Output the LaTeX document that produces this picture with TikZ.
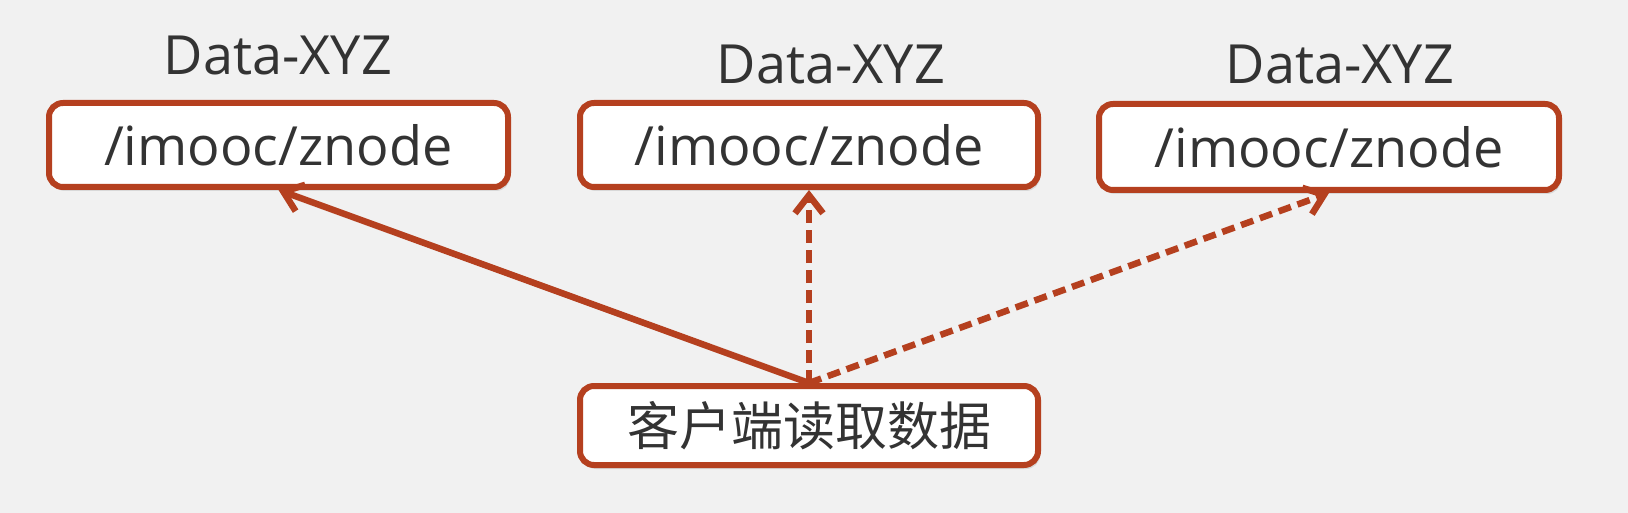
\documentclass[tikz,border=0pt]{standalone}
\usepackage{fontspec}
\setmainfont{Open Sans}
\newfontfamily\cjk{Noto Sans CJK SC}
\usetikzlibrary{arrows.meta,shadows}
\definecolor{bg}{HTML}{F1F1F1}
\definecolor{rust}{HTML}{B5401F}
\definecolor{txt}{HTML}{333333}
\tikzset{
  box/.style={draw=rust, line width=6pt, fill=white, rounded corners=14pt,
    inner sep=0pt, text=txt, font=\fontsize{54}{60}\selectfont,
    drop shadow={opacity=0.22, shadow xshift=2pt, shadow yshift=-4pt}},
  lbl/.style={text=txt, font=\fontsize{54}{60}\selectfont, inner sep=0pt, anchor=base},
  conn/.style={draw=rust, line width=6.5pt,
    -{Straight Barb[length=18pt,width=28pt]}},
  dashconn/.style={conn, dash pattern=on 13pt off 7pt}
}
\begin{document}
\begin{tikzpicture}[x=1pt,y=-1pt]
\fill[bg] (0,0) rectangle (1628,513);
\useasboundingbox (0,0) rectangle (1628,513);
\node[box, minimum width=459pt, minimum height=84pt] (b1) at (278.5,145) {/imooc/znode};
\node[box, minimum width=458pt, minimum height=84pt] (b2) at (809,145) {/imooc/znode};
\node[box, minimum width=460pt, minimum height=86pt] (b3) at (1329,147) {/imooc/znode};
\node[box, minimum width=458pt, minimum height=79pt, font=\cjk\fontsize{52}{60}\selectfont] (bot) at (809,425.5) {客户端读取数据};
\node[lbl] (l1) at (278,75) {Data-XYZ};
\node[lbl] (l2) at (831,84) {Data-XYZ};
\node[lbl] (l3) at (1340,84) {Data-XYZ};
\draw[conn] (bot.north) -- (b1.south);
\draw[dashconn] (bot.north) -- (b2.south);
\draw[dashconn] (bot.north) -- (b3.south);
\end{tikzpicture}
\end{document}
